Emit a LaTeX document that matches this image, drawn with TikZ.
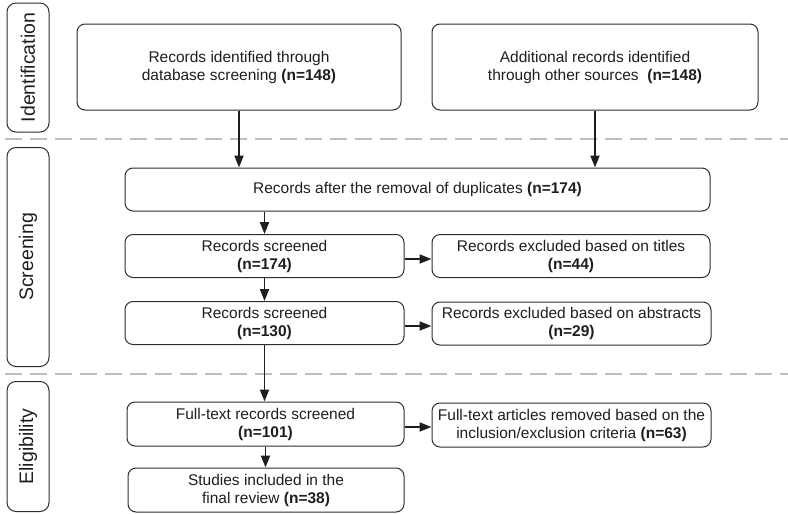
\documentclass[tikz,border=0pt]{standalone}
\usepackage{fontspec}
\setmainfont{Liberation Sans}
\usetikzlibrary{arrows.meta}
\definecolor{txt}{RGB}{30,30,30}
\definecolor{boxc}{RGB}{45,45,45}
\definecolor{dashc}{RGB}{190,190,190}
\begin{document}
\begin{tikzpicture}[x=1pt,y=-1pt,
  box/.style={draw=boxc, line width=1pt, rounded corners=8pt, align=center,
    font=\fontsize{15.5}{18}\selectfont, text=txt, inner sep=0pt},
  lab/.style={draw=boxc, line width=1pt, rounded corners=9pt, rotate=90,
    font=\fontsize{19.5}{22}\selectfont, text=txt, inner sep=0pt, minimum height=42pt},
  arr/.style={line width=1.9pt, draw=txt, -{Triangle[length=12pt,width=9pt]}},
  sep/.style={draw=dashc, line width=2pt, dash pattern=on 17pt off 8pt}]
\useasboundingbox (0,0) rectangle (788,514);

% separators
\coordinate (s1a) at (5,139);  \coordinate (s1b) at (788,139);
\coordinate (s2a) at (5,374);  \coordinate (s2b) at (788,374);
\draw[sep] (s1a) -- (s1b);
\draw[sep] (s2a) -- (s2b);

% stage labels
\node[lab, minimum width=129pt] (l1) at (28,67.5) {Identification};
\node[lab, minimum width=219pt] (l2) at (28,257) {Screening};
\node[lab, minimum width=130pt] (l3) at (28,446.5) {Eligibility};

% boxes
\node[box, minimum width=324pt, minimum height=86pt] (b1) at (239,67)
  {Records identified through\\database screening \textbf{(n=148)}};
\node[box, minimum width=326pt, minimum height=86pt] (b2) at (595,67)
  {Additional records identified\\through other sources\ \ \textbf{(n=148)}};
\node[box, minimum width=585pt, minimum height=43pt] (b3) at (417.5,189.5)
  {Records after the removal of duplicates \textbf{(n=174)}};
\node[box, minimum width=279pt, minimum height=43pt] (b4) at (264.5,256)
  {Records screened\\\textbf{(n=174)}};
\node[box, minimum width=278pt, minimum height=43pt] (b5) at (571,256)
  {Records excluded based on titles\\\textbf{(n=44)}};
\node[box, minimum width=279pt, minimum height=43pt] (b6) at (264.5,323)
  {Records screened\\\textbf{(n=130)}};
\node[box, minimum width=279pt, minimum height=43pt] (b7) at (571.5,323.5)
  {Records excluded based on abstracts\\\textbf{(n=29)}};
\node[box, minimum width=277pt, minimum height=44pt] (b8) at (265.5,424)
  {Full-text records screened\\\textbf{(n=101)}};
\node[box, minimum width=279pt, minimum height=44pt] (b9) at (571.5,425)
  {Full-text articles removed based on the\\inclusion/exclusion criteria \textbf{(n=63)}};
\node[box, minimum width=276pt, minimum height=44pt] (b10) at (266,490)
  {Studies included in the\\final review \textbf{(n=38)}};

% arrows
\draw[arr] (b1.south) -- (b1.south |- b3.north);
\draw[arr] (b2.south) -- (b2.south |- b3.north);
\draw[arr] (b4.north |- b3.south) -- (b4.north);
\draw[arr] (b4.south) -- (b6.north);
\draw[arr] (b6.south) -- (b6.south |- b8.north);
\draw[arr] (b8.south) -- (b8.south |- b10.north);
\draw[arr] ([yshift=-3pt]b4.east) -- ([yshift=-3pt]b4.east -| b5.west);
\draw[arr] ([yshift=-3pt]b6.east) -- ([yshift=-3pt]b6.east -| b7.west);
\draw[arr] ([yshift=-3pt]b8.east) -- ([yshift=-3pt]b8.east -| b9.west);
\end{tikzpicture}
\end{document}
